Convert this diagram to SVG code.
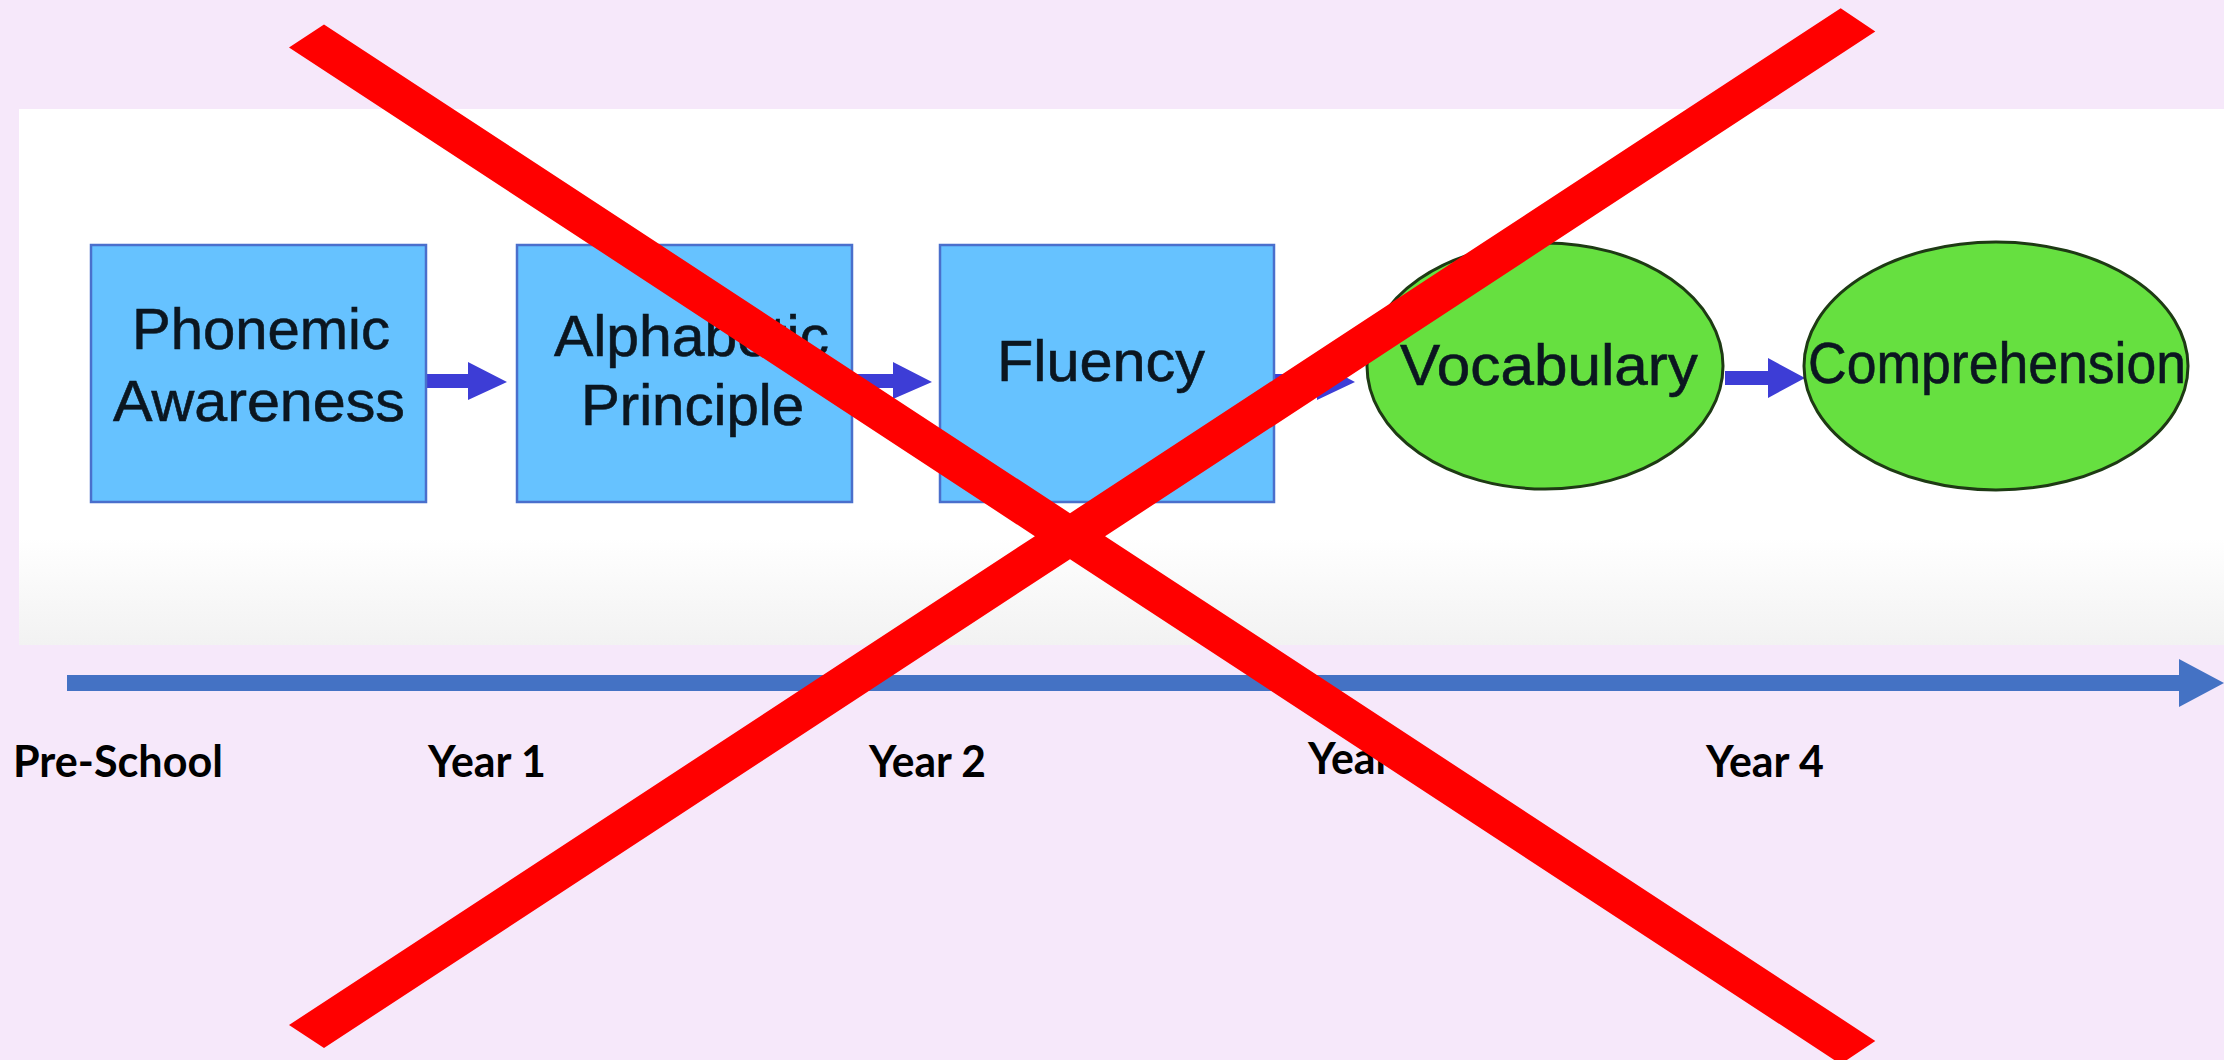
<svg xmlns="http://www.w3.org/2000/svg" width="2224" height="1060" viewBox="0 0 2224 1060">
  <defs>
    <linearGradient id="panelFill" x1="0" y1="0" x2="0" y2="1">
      <stop offset="0" stop-color="#ffffff"/>
      <stop offset="0.8" stop-color="#ffffff"/>
      <stop offset="1" stop-color="#f2f2f2"/>
    </linearGradient>
    <style>
      .box { fill: #66C2FF; stroke: #4A6FCC; stroke-width: 2.5; }
      .oval { fill: #66E040; stroke: #1E3A14; stroke-width: 3; }
      .label { font-family: "Liberation Sans", Arial, sans-serif; font-size: 58px; fill: #0B1620; stroke: #0B1620; stroke-width: 0.6; }
      .year { font-family: Lato, "Open Sans", sans-serif; font-weight: 700; font-size: 43px; fill: #000000; }
      .flow { fill: #3D3DD6; }
      .timeline { fill: #4472C4; }
      .cross { fill: #FF0000; }
    </style>
  </defs>

  <!-- page background and slide panel -->
  <rect x="0" y="0" width="2224" height="1060" fill="#F6E8FA"/>
  <rect x="19" y="109" width="2205" height="536" fill="url(#panelFill)"/>

  <!-- flow arrows between stages -->
  <g id="connectors">
    <polygon class="flow" points="426,374 468,374 468,362 507,382 468,400 468,388 426,388"/>
    <polygon class="flow" points="852,374 893,374 893,362 932,382 893,399 893,388 852,388"/>
    <polygon class="flow" points="1274,374 1317,374 1317,362 1355,382 1317,400 1317,388 1274,388"/>
    <polygon class="flow" points="1725,371 1768,371 1768,358 1805,378 1768,398 1768,385 1725,385"/>
  </g>

  <g id="phonemic-awareness">
    <rect class="box" x="91" y="245" width="335" height="257"/>
    <text class="label" x="132" y="349" textLength="258" lengthAdjust="spacingAndGlyphs">Phonemic</text>
    <text class="label" x="113" y="421" textLength="292" lengthAdjust="spacingAndGlyphs">Awareness</text>
  </g>

  <g id="alphabetic-principle">
    <rect class="box" x="517" y="245" width="335" height="257"/>
    <text class="label" x="554" y="356" textLength="275" lengthAdjust="spacingAndGlyphs">Alphabetic</text>
    <text class="label" x="581" y="425" textLength="223" lengthAdjust="spacingAndGlyphs">Principle</text>
  </g>

  <g id="fluency">
    <rect class="box" x="940" y="245" width="334" height="257"/>
    <text class="label" x="997" y="381" textLength="208" lengthAdjust="spacingAndGlyphs">Fluency</text>
  </g>

  <g id="vocabulary">
    <ellipse class="oval" cx="1545" cy="366" rx="178" ry="123"/>
    <text class="label" x="1400" y="385" textLength="298" lengthAdjust="spacingAndGlyphs">Vocabulary</text>
  </g>

  <g id="comprehension">
    <ellipse class="oval" cx="1996" cy="366" rx="192" ry="124"/>
    <text class="label" x="1808" y="383" font-size="54" textLength="378" lengthAdjust="spacingAndGlyphs">Comprehension</text>
  </g>

  <!-- time axis -->
  <g id="timeline">
    <polygon class="timeline" points="67,675 2179,675 2179,659 2224,683 2179,707 2179,691 67,691"/>
    <text class="year" x="13" y="777" textLength="210" lengthAdjust="spacingAndGlyphs">Pre-School</text>
    <text class="year" x="428" y="777" textLength="118" lengthAdjust="spacingAndGlyphs">Year 1</text>
    <text class="year" x="869" y="777" textLength="117" lengthAdjust="spacingAndGlyphs">Year 2</text>
    <text class="year" x="1308" y="774" textLength="118" lengthAdjust="spacingAndGlyphs">Year 3</text>
    <text class="year" x="1706" y="777" textLength="118" lengthAdjust="spacingAndGlyphs">Year 4</text>
  </g>

  <!-- large red multiplication sign over the whole slide -->
  <g id="cross">
    <polygon class="cross" points="324,24.4 1070,513.2 1840.7,8.2 1875.3,31.5 1105.1,536.2 1875.3,1040.9 1840.7,1064.2 1070,559.2 324,1048 289,1025 1034.9,536.2 289,47.4"/>
  </g>
</svg>
